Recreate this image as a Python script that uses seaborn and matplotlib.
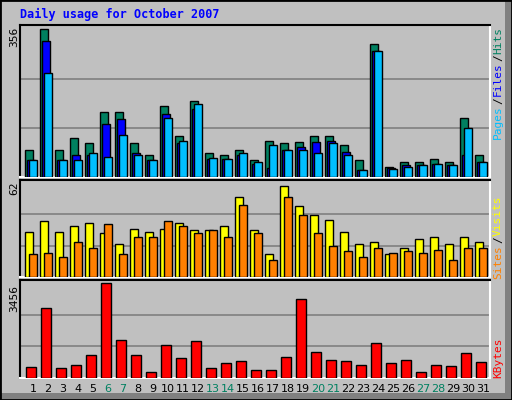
import matplotlib
matplotlib.use("Agg")
import matplotlib.pyplot as plt
import seaborn as sns
import numpy as np
import pandas as pd
from matplotlib.patches import Rectangle

days = list(range(1, 32))
hits  = [66,356,64,95,83,158,158,81,54,172,100,183,57,54,64,42,88,81,85,100,100,76,42,322,25,35,37,44,37,143,54]
files = [42,327,40,54,52,127,139,57,42,153,83,165,44,44,54,32,21,64,73,85,88,61,16,305,21,28,30,32,30,52,37]
pages = [42,250,40,42,57,49,102,52,42,143,88,175,47,44,57,35,78,64,66,59,81,54,16,303,20,23,30,32,28,119,35]
sites  = [29.8,36.9,29.8,33.7,35.6,29.2,21.4,31.8,29.8,31.8,35.6,31.1,31.1,33.7,52.5,31.1,14.9,59.6,46.7,40.8,37.6,29.8,21.4,23.3,14.9,19.4,25.3,26.6,21.4,26.6,23.3]
visits = [14.9,15.6,13,23.3,19.4,35,14.9,26.6,26.6,36.9,33.7,29.2,31.1,26.6,47.3,29.2,11,52.5,40.8,29.2,20.7,16.8,13,18.8,15.6,16.8,15.6,17.5,11,18.8,18.8]
kbytes = [390,2539,352,465,842,3456,1370,842,201,1181,729,1332,352,540,616,276,276,767,2878,955,653,616,465,1257,540,653,201,465,427,917,578]
weekends = [6,7,13,14,20,21,27,28]
max_hits, max_sites, max_kb = 356, 62, 3456

sns.set_theme(style="white")
plt.rcParams['font.family'] = ['DejaVu Sans']

BG = "#c0c0c0"
fig = plt.figure(figsize=(5.12, 4.0), dpi=100, facecolor=BG)
# 3D-ish frame: dark grey strips right/bottom, black left/top
fig.patches.append(Rectangle((505/512, 0), 7/512, 1, transform=fig.transFigure,
                             facecolor="#808080", edgecolor="none", zorder=9))
fig.patches.append(Rectangle((0, 0), 1, 7/400, transform=fig.transFigure,
                             facecolor="#808080", edgecolor="none", zorder=9))
fig.patches.append(Rectangle((0, 0), 1, 1, transform=fig.transFigure, fill=False,
                             edgecolor="black", lw=2, zorder=10))

W = 470 / 512
L = 20 / 512
ax1 = fig.add_axes([L, 1 - 177/400, W, 152/400])
ax2 = fig.add_axes([L, 1 - 277/400, W, 97/400])
ax3 = fig.add_axes([L, 1 - 378/400, W, 98/400])

d = np.array(days)
bw = 8/15
kw = dict(edgecolor="black", linewidth=1, align="edge")
ax1.bar(d - 0.533, hits, bw, color="#008060", **kw, zorder=3)
ax1.bar(d - 0.40, files, bw, color="#0000ff", **kw, zorder=4)
ax1.bar(d - 0.267, pages, bw, color="#00bfff", **kw, zorder=5)
ax2.bar(d - 0.533, sites, bw, color="#ffff00", **kw, zorder=3)
ax2.bar(d - 0.267, visits, bw, color="#ff8000", **kw, zorder=4)
df = pd.DataFrame({"day": d - 0.47, "kb": kbytes})
ax3.bar(df["day"], df["kb"], 10/15, color="#ff0000", **kw, zorder=3)

for ax, m in [(ax1, max_hits), (ax2, max_sites), (ax3, max_kb)]:
    ax.set_facecolor(BG)
    ax.set_xlim(1 - 13/15, 31 + 7/15)
    ax.set_ylim(0, m * 1.03)
    for g in (m/3, 2*m/3):
        ax.axhline(g, color="#808080", lw=1.2, zorder=1)
    ax.set_yticks([])
    ax.set_xticks([])
    ax.spines["top"].set_color("black")
    ax.spines["left"].set_color("black")
    ax.spines["right"].set_color("white")
    ax.spines["bottom"].set_color("white")
    for s in ax.spines.values():
        s.set_linewidth(1.5)

ax3.set_xticks(days)
ax3.set_xticklabels([str(x) for x in days], fontsize=8)
ax3.tick_params(axis="x", length=0, pad=4)
for lab, day in zip(ax3.get_xticklabels(), days):
    lab.set_color("#008060" if day in weekends else "black")

mono = "DejaVu Sans Mono"
fig.text(20/512, 1 - 14/400, "Daily usage for October 2007", color="#0000ff",
         fontsize=8.5, fontweight="bold", family=mono, va="center", ha="left")

def vt(x, y, s, c, fs=8):
    fig.text(x/512, 1 - y/400, s, color=c, rotation=90, fontsize=fs, family=mono,
             ha="center", va="center")

vt(14, 37, str(max_hits), "black", 8)
vt(14, 188, str(max_sites), "black", 8)
vt(14, 298, str(max_kb), "black", 8)

vt(498, 122, "Pages", "#00bfff")
vt(498, 101, "/", "black")
vt(498, 79, "Files", "#0000ff")
vt(498, 58, "/", "black")
vt(498, 40, "Hits", "#008060")
vt(498, 262, "Sites", "#ff8000")
vt(498, 240, "/", "black")
vt(498, 216, "Visits", "#ffff00")
vt(498, 358, "KBytes", "#ff0000")

fig.savefig("out.png", dpi=100, facecolor=BG)
